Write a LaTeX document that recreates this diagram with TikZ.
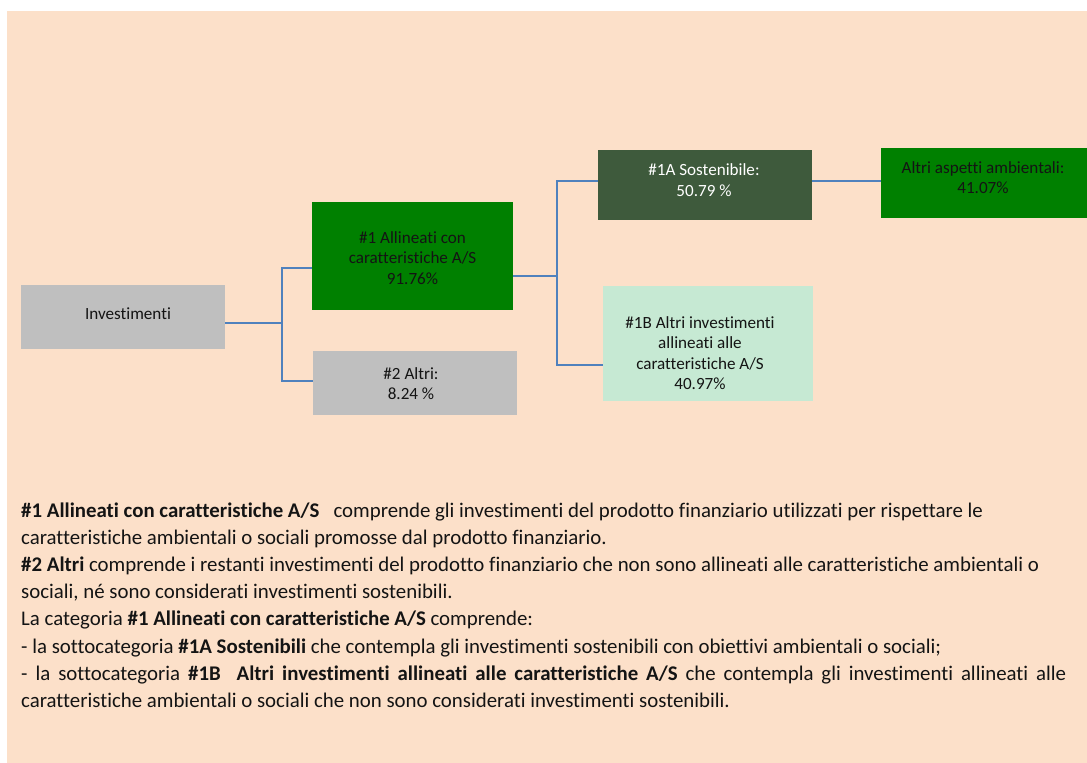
\documentclass[tikz,border=0pt]{standalone}
\usepackage{fontspec}
\setmainfont{Carlito}[Ligatures=NoCommon]
\begin{document}
\begin{tikzpicture}[x=1pt, y=-1pt,
    box/.style 2 args={minimum width=#1, minimum height=#2, inner sep=0pt, outer sep=0pt},
    boxtext/.style={align=center, inner sep=0pt, font=\fontsize{17.1}{20.5}\selectfont},
    bodytext/.style={anchor=base west, inner sep=0pt, font=\fontsize{20.85}{27}\selectfont},
    link/.style={draw=linkcolor, line width=1.4pt}]
  % Define colors
  \definecolor{peachcolor}{RGB}{252,224,201}
  \definecolor{greycolor}{RGB}{191,191,191}
  \definecolor{greencolor}{RGB}{0,128,0}
  \definecolor{darkgreencolor}{RGB}{62,90,60}
  \definecolor{palegreencolor}{RGB}{198,233,211}
  \definecolor{linkcolor}{RGB}{79,129,189}
  \definecolor{inkcolor}{RGB}{20,20,20}

  % Page and background panel
  \useasboundingbox (0,0) rectangle (1087,763);
  \fill[white] (0,0) rectangle (1087,763);
  \fill[peachcolor] (7,11) rectangle (1087,763);

  % Boxes of the tree
  \node[box={204pt}{64pt}, fill=greycolor] (inv) at (123,317) {};
  \node[box={201pt}{108pt}, fill=greencolor] (all) at (412.5,256) {};
  \node[box={204pt}{64pt}, fill=greycolor] (altri) at (415,383) {};
  \node[box={214pt}{70pt}, fill=darkgreencolor] (sost) at (705,185) {};
  \node[box={210pt}{115pt}, fill=palegreencolor] (allb) at (708,343.5) {};
  \node[box={210pt}{70pt}, fill=greencolor] (amb) at (986,183) {};

  % Texts in the boxes
  \node[boxtext, text=inkcolor] (inv-text) at (128,314) {Investimenti};
  \node[boxtext, text=inkcolor] (all-text) at (412.5,258) {\#1 Allineati con\\caratteristiche A/S\\91.76\%};
  \node[boxtext, text=inkcolor] (altri-text) at (411,383.5) {\#2 Altri:\\8.24 \%};
  \node[boxtext, text=white] (sost-text) at (704,180) {\#1A Sostenibile:\\50.79 \%};
  \node[boxtext, text=inkcolor] (amb-text) at (983,177.5) {Altri aspetti ambientali:\\41.07\%};
  \node[boxtext, text=inkcolor] (allb-text) at (700,353) {\#1B Altri investimenti\\allineati alle\\caratteristiche A/S\\40.97\%};

  % Connectors
  \draw[link] ([yshift=-6]inv.east) -- ++(57,0) coordinate (fork1);
  \draw[link] ([yshift=-12]all.west) -| (fork1) |- ([yshift=2]altri.west);
  \draw[link] ([yshift=-20]all.east) -- ++(44,0) coordinate (fork2);
  \draw[link] ([yshift=4]sost.west) -| (fork2) |- ([yshift=-21.5]allb.west);
  \draw[link] ([yshift=4]sost.east) -- ([yshift=2]amb.west);

  % Notes below the tree
  \node[bodytext, text=inkcolor] (note1) at (21,517) {\textbf{\#1 Allineati con caratteristiche A/S}\ \ \ comprende gli investimenti del prodotto finanziario utilizzati per rispettare le};
  \node[bodytext, text=inkcolor] (note2) at (21,544.2) {caratteristiche ambientali o sociali promosse dal prodotto finanziario.};
  \node[bodytext, text=inkcolor] (note3) at (21,571.4) {\textbf{\#2 Altri} comprende i restanti investimenti del prodotto finanziario che non sono allineati alle caratteristiche ambientali o};
  \node[bodytext, text=inkcolor] (note4) at (21,598.6) {sociali, né sono considerati investimenti sostenibili.};
  \node[bodytext, text=inkcolor] (note5) at (21,625.8) {La categoria \textbf{\#1 Allineati con caratteristiche A/S} comprende:};
  \node[bodytext, text=inkcolor] (note6) at (21,653) {- la sottocategoria \textbf{\#1A Sostenibili} che contempla gli investimenti sostenibili con obiettivi ambientali o sociali;};
  \node[bodytext, text=inkcolor] (note7) at (21,680.2) {\makebox[1045pt][s]{- la sottocategoria \textbf{\#1B\ \ Altri investimenti allineati alle caratteristiche A/S} che contempla gli investimenti allineati alle}};
  \node[bodytext, text=inkcolor] (note8) at (21,707.4) {caratteristiche ambientali o sociali che non sono considerati investimenti sostenibili.};
\end{tikzpicture}
\end{document}
